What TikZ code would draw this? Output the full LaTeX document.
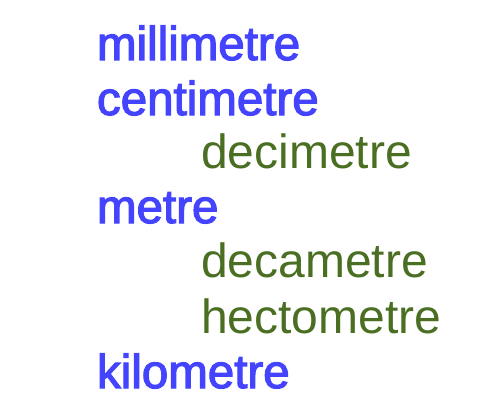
\documentclass[tikz,border=0pt]{standalone}
\usepackage{fontspec}
\newfontfamily\bluefont[FakeBold=2.5]{Liberation Sans}
\newfontfamily\greenfont{Liberation Sans}
\definecolor{unitblue}{HTML}{4444FF}
\definecolor{unitgreen}{HTML}{4A6E22}
\tikzset{
  base/.style={anchor=base west, inner sep=0pt, outer sep=0pt},
  bigunit/.style={base, text=unitblue, font=\bluefont\fontsize{47.5}{50}\selectfont},
  subunit/.style={base, text=unitgreen, font=\greenfont\fontsize{48}{50}\selectfont}
}
\begin{document}
\begin{tikzpicture}[x=1pt,y=-1pt]
\useasboundingbox (0,0) rectangle (500,417);
\node[bigunit] (mm) at (97,60) {millimetre};
\node[bigunit] (cm) at (97,115) {centimetre};
\node[subunit] (dm) at (201,168) {decimetre};
\node[bigunit] (m) at (97,223) {metre};
\node[subunit] (dam) at (201,277) {decametre};
\node[subunit] (hm) at (201,333) {hectometre};
\node[bigunit] (km) at (97,388) {kilometre};
\end{tikzpicture}
\end{document}
